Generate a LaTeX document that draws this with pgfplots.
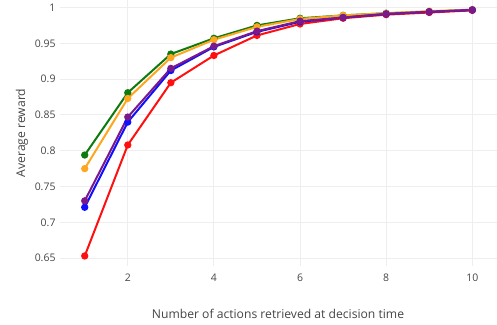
\documentclass[border=0pt]{standalone}
\usepackage{fontspec}
\setmainfont{Open Sans}
\usepackage{pgfplots}
\pgfplotsset{compat=1.18}
\definecolor{txt}{HTML}{444444}
\definecolor{gridc}{HTML}{EEEEEE}
\definecolor{cgreen}{HTML}{0E7A0E}
\definecolor{corange}{HTML}{FFA620}
\definecolor{cpurple}{HTML}{7A1A8A}
\definecolor{cblue}{HTML}{1010FF}
\definecolor{cred}{HTML}{FF1010}
\begin{document}
\begin{tikzpicture}
\path[use as bounding box] (0,0) rectangle (497bp,325bp);
\begin{axis}[
  at={(60bp,59bp)}, anchor=south west,
  scale only axis, width=437bp, height=266bp,
  xmin=0.426, xmax=10.574, ymin=0.639, ymax=1.0105,
  xtick={2,4,6,8,10},
  ytick={0.65,0.7,0.75,0.8,0.85,0.9,0.95,1},
  yticklabels={0.65,0.7,0.75,0.8,0.85,0.9,0.95,1},
  xmajorgrids, ymajorgrids,
  grid style={gridc, line width=1bp},
  axis line style={draw=none},
  major tick length=0pt,
  /pgf/number format/assume math mode=true,
  tick label style={font=\fontsize{10.5}{12}\selectfont, text=txt},
  xticklabel style={yshift=-4bp},
  yticklabel style={xshift=-1bp},
  every axis plot/.append style={line width=2bp, mark=*, mark size=2.6bp},
]
\addplot[cgreen, mark options={fill=cgreen}] coordinates {(1,0.794)(2,0.881)(3,0.935)(4,0.957)(5,0.975)(6,0.985)(7,0.989)(8,0.992)(9,0.994)(10,0.997)};
\addplot[corange, mark options={fill=corange}] coordinates {(1,0.775)(2,0.873)(3,0.930)(4,0.955)(5,0.973)(6,0.984)(7,0.989)(8,0.992)(9,0.995)(10,0.997)};
\addplot[cred, mark options={fill=cred}] coordinates {(1,0.653)(2,0.808)(3,0.895)(4,0.933)(5,0.961)(6,0.977)(7,0.985)(8,0.990)(9,0.993)(10,0.996)};
\addplot[cblue, mark options={fill=cblue}] coordinates {(1,0.721)(2,0.840)(3,0.912)(4,0.945)(5,0.966)(6,0.980)(7,0.986)(8,0.991)(9,0.994)(10,0.9965)};
\addplot[cpurple, mark options={fill=cpurple}] coordinates {(1,0.730)(2,0.847)(3,0.915)(4,0.946)(5,0.967)(6,0.981)(7,0.986)(8,0.991)(9,0.994)(10,0.9965)};
\end{axis}
\node[text=txt, font=\fontsize{12.2}{14}\selectfont, rotate=90] at (22bp,192bp) {Average reward};
\node[text=txt, font=\fontsize{12.2}{14}\selectfont] at (278bp,11bp) {Number of actions retrieved at decision time};
\end{tikzpicture}
\end{document}
